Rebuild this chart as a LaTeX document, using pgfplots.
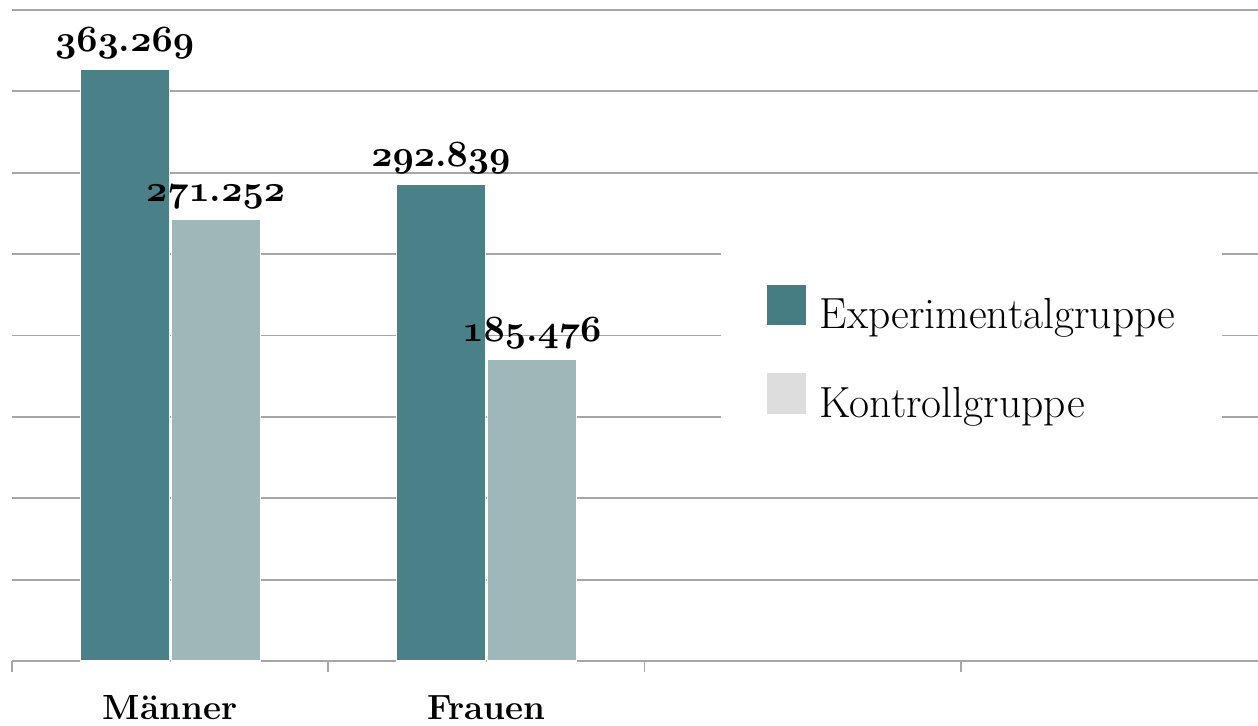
\RequirePackage{fix-cm}
\documentclass[border=0pt]{standalone}
\usepackage{pgfplots}
\pgfplotsset{compat=1.18}
\definecolor{expC}{RGB}{74,129,136}
\definecolor{ctrlC}{RGB}{160,183,186}
\definecolor{legExp}{RGB}{69,125,131}
\definecolor{legCtrl}{RGB}{221,221,221}
\definecolor{gridC}{RGB}{166,166,166}
\newcommand\osd[1]{{\usefont{OML}{cmm}{b}{it}#1}}
\newcommand\osn[2]{\osd{#1}\textbf{.}\osd{#2}}
\begin{document}
\begin{tikzpicture}
\begin{axis}[
  at={(0,0)}, anchor=south west,
  scale only axis, width=632.5pt, height=325.5pt,
  ybar=1pt, bar width=44.5pt,
  xmin=-0.5, xmax=3.5, ymin=0, ymax=400,
  xtick={0,1}, xticklabels={Männer,Frauen},
  minor xtick={-0.5,0.5,1.5,2.5,3.5},
  major x tick style={draw=none},
  minor x tick style={gridC, line width=0.9pt},
  tick align=outside, minor tick length=5.5pt, major tick length=0pt,
  ytick={0,50,...,400}, yticklabels={},
  major y tick style={draw=none},
  ymajorgrids, grid style={gridC, line width=0.9pt},
  axis x line*=bottom, axis y line*=left,
  x axis line style={gridC, line width=0.9pt, -},
  y axis line style={draw=none},
  xticklabel style={font=\fontsize{17.5}{20}\selectfont\bfseries, anchor=base, inner sep=0pt, yshift=-29.5pt},
  nodes near coords, point meta=explicit symbolic,
  every node near coord/.append style={font=\fontsize{18.5}{21}\selectfont\bfseries, anchor=base, yshift=9pt, text=black},
  legend style={draw=none, fill=white, at={(rel axis cs:0.5605,0.4685)}, anchor=west,
    inner xsep=23pt, inner ysep=30pt, cells={anchor=base west},
    nodes={inner sep=0pt, text height=15pt, text depth=5pt},
    row sep=17.5pt, column sep=7pt, font=\fontsize{21.8}{24}\selectfont},
  clip=false,
]
\addplot[fill=expC, draw=white, line width=0.6pt,
  legend image code/.code={\fill[legExp] (0pt,2pt) rectangle (18.5pt,21.5pt);}]
  coordinates {(0,363.269) [\osn{363}{269}] (1,292.839) [\osn{292}{839}]};
\addplot[fill=ctrlC, draw=white, line width=0.6pt,
  legend image code/.code={\fill[legCtrl] (0pt,2pt) rectangle (18.5pt,21.5pt);}]
  coordinates {(0,271.252) [\osn{271}{252}] (1,185.476) [\osn{185}{476}]};
\legend{Experimentalgruppe, Kontrollgruppe}
\end{axis}
\pgfresetboundingbox
\useasboundingbox (-6pt,-32.5pt) rectangle (623pt,330.5pt);
\end{tikzpicture}
\end{document}
